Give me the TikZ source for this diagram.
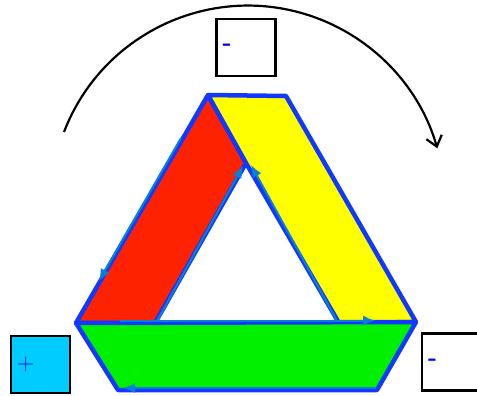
\documentclass[tikz,border=0pt]{standalone}
\usepackage{tikz}
\usetikzlibrary{arrows.meta, calc}

\definecolor{bandred}{RGB}{255,34,0}
\definecolor{bandyellow}{RGB}{255,255,0}
\definecolor{bandgreen}{RGB}{0,240,0}
\definecolor{edgeblue}{RGB}{16,56,255}
\definecolor{flowblue}{RGB}{10,128,210}
\definecolor{boxcyan}{RGB}{0,204,255}

\tikzset{
    band/.style={draw=edgeblue, line width=4.5pt, line join=round},
    flow/.style={draw=flowblue, line width=2pt, -{Latex[length=12pt, width=10pt]}},
    signbox/.style={draw=black, line width=2.2pt, minimum width=59pt, minimum height=57pt,
        text width=47pt, align=left, inner sep=6pt, text=blue, font=\fontsize{24}{28}\selectfont},
    turn/.style={black, line width=2.2pt, -{Straight Barb[length=10pt, width=16pt, line width=2.2pt]}}
}

\begin{document}
\begin{tikzpicture}[x=1pt, y=-1pt]
    \useasboundingbox (0,0) rectangle (477,396);
    \clip (0,0) rectangle (477,396);

    % Corners of the bands
    \coordinate (T1) at (208,95);
    \coordinate (T2) at (286,96);
    \coordinate (L) at (76,323);
    \coordinate (R) at (416,322);
    \coordinate (BL) at (118,390);
    \coordinate (BR) at (377,390);
    \coordinate (Ia) at (155,323);
    \coordinate (Ib) at (339,323);
    \coordinate (It) at (246,163);

    % Three bands
    \draw[band, fill=bandred] (T1) -- (L) -- (Ia) -- (It) -- cycle;
    \draw[band, fill=bandyellow] (T1) -- (T2) -- (R) -- (Ib) -- (It) -- cycle;
    \draw[band, fill=bandgreen] (L) -- (R) -- (BR) -- (BL) -- cycle;

    % Flow along the edges
    \coordinate (f1s) at (181,138);
    \coordinate (f1e) at (99,281);
    \coordinate (f2s) at (157,321);
    \coordinate (f2e) at (243,166);
    \coordinate (f3s) at (337,321);
    \coordinate (f3e) at (251,165);
    \coordinate (f4s) at (120,320.5);
    \coordinate (f4e) at (375,320.5);
    \coordinate (f5s) at (376,388);
    \coordinate (f5e) at (123,388);
    \foreach \s/\e in {f1s/f1e, f2s/f2e, f3s/f3e, f4s/f4e, f5s/f5e} {
        \draw[flow] (\s) -- (\e);
    }

    % Sign boxes
    \node[signbox, fill=boxcyan] (plus) at (40.5,364.5) {+};
    \node[signbox] (top) at (246,47.5) {\bfseries -};
    \node[signbox] (right) at (451.5,362) {\bfseries -};

    % Turning arrow
    \coordinate (turnstart) at (64,132);
    \draw[turn] (turnstart) arc[start angle=-159, end angle=-16, radius=197];
\end{tikzpicture}
\end{document}
